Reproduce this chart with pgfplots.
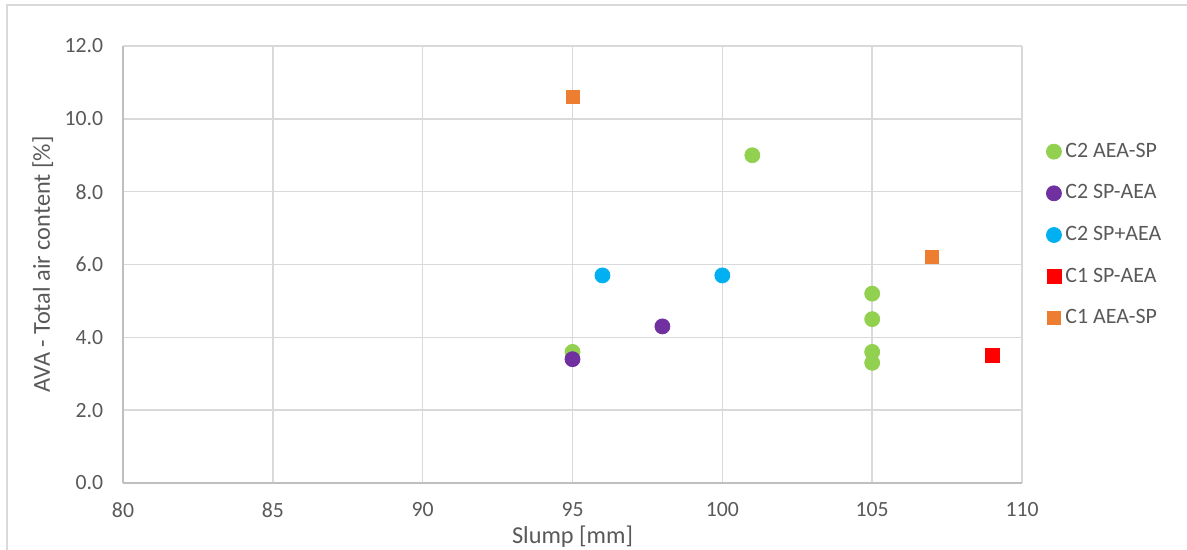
\documentclass[border=0pt]{standalone}
\usepackage{pgfplots}
\pgfplotsset{compat=1.18}
\usepackage{fontspec}
\setmainfont{Carlito}
\definecolor{cgreen}{HTML}{92D050}
\definecolor{cpurple}{HTML}{7030A0}
\definecolor{cblue}{HTML}{00B0F0}
\definecolor{cred}{HTML}{FF0000}
\definecolor{corange}{HTML}{ED7D31}
\definecolor{txt}{HTML}{595959}
\definecolor{axl}{HTML}{BFBFBF}
\definecolor{grd}{HTML}{D9D9D9}
\begin{document}
\begin{tikzpicture}
\useasboundingbox (0,0) rectangle (593.5bp,-275bp);
\draw[grd, line width=0.6bp] (3.5bp,-275bp) -- (3.5bp,-2.5bp) -- (593.5bp,-2.5bp);
\begin{axis}[
  at={(61.5bp,-241.5bp)}, anchor=south west,
  scale only axis, width=449.5bp, height=218.5bp,
  xmin=80, xmax=110, ymin=0, ymax=12,
  xtick={80,85,...,110}, ytick={0,2,...,12},
  grid=major, major grid style={grd, line width=0.7bp},
  axis lines*=left, axis line style={axl, line width=0.7bp},
  tick style={draw=none},
  ticklabel style={font=\fontsize{10.9}{13}\selectfont, text=txt},
  /pgf/number format/assume math mode=true,
  yticklabel={\pgfmathprintnumber[fixed,fixed zerofill,precision=1]{\tick}},
  yticklabel style={xshift=-6.4bp},
  xticklabel style={yshift=-6.4bp},
  xlabel={Slump [mm]}, ylabel={AVA - Total air content [\%]},
  label style={font=\fontsize{12.2}{14}\selectfont, text=txt},
  xlabel style={at={(axis description cs:0.5,-0.1373)}, anchor=base},
  ylabel style={at={(axis description cs:-0.0812,0.5)}, anchor=base},
  legend style={at={(axis description cs:1.0201,0.5675)}, anchor=west, draw=none, fill=none,
    font=\fontsize{11}{13}\selectfont, text=txt, row sep=8.25bp,
    /tikz/every even column/.append style={column sep=0bp}},
  legend cell align=left,
  legend image code/.code={\draw[mark repeat=2,mark phase=2] plot coordinates {(0bp,0bp) (4bp,0bp) (8bp,0bp)};},
  clip=false,
]
\addplot[only marks, color=cgreen, mark=*, mark size=3.75bp] coordinates {
(95,3.6) (101,9.0) (105,5.2) (105,4.5) (105,3.6) (105,3.3)};
\addlegendentry{C2 AEA-SP}
\addplot[only marks, color=cpurple, mark=*, mark size=3.75bp] coordinates {
(95,3.4) (98,4.3)};
\addlegendentry{C2 SP-AEA}
\addplot[only marks, color=cblue, mark=*, mark size=3.75bp] coordinates {
(96,5.7) (100,5.7)};
\addlegendentry{C2 SP+AEA}
\addplot[only marks, color=cred, mark=square*, mark size=3.5bp] coordinates {
(109,3.5)};
\addlegendentry{C1 SP-AEA}
\addplot[only marks, color=corange, mark=square*, mark size=3.25bp] coordinates {
(95,10.6) (107,6.2)};
\addlegendentry{C1 AEA-SP}
\end{axis}
\end{tikzpicture}
\end{document}
